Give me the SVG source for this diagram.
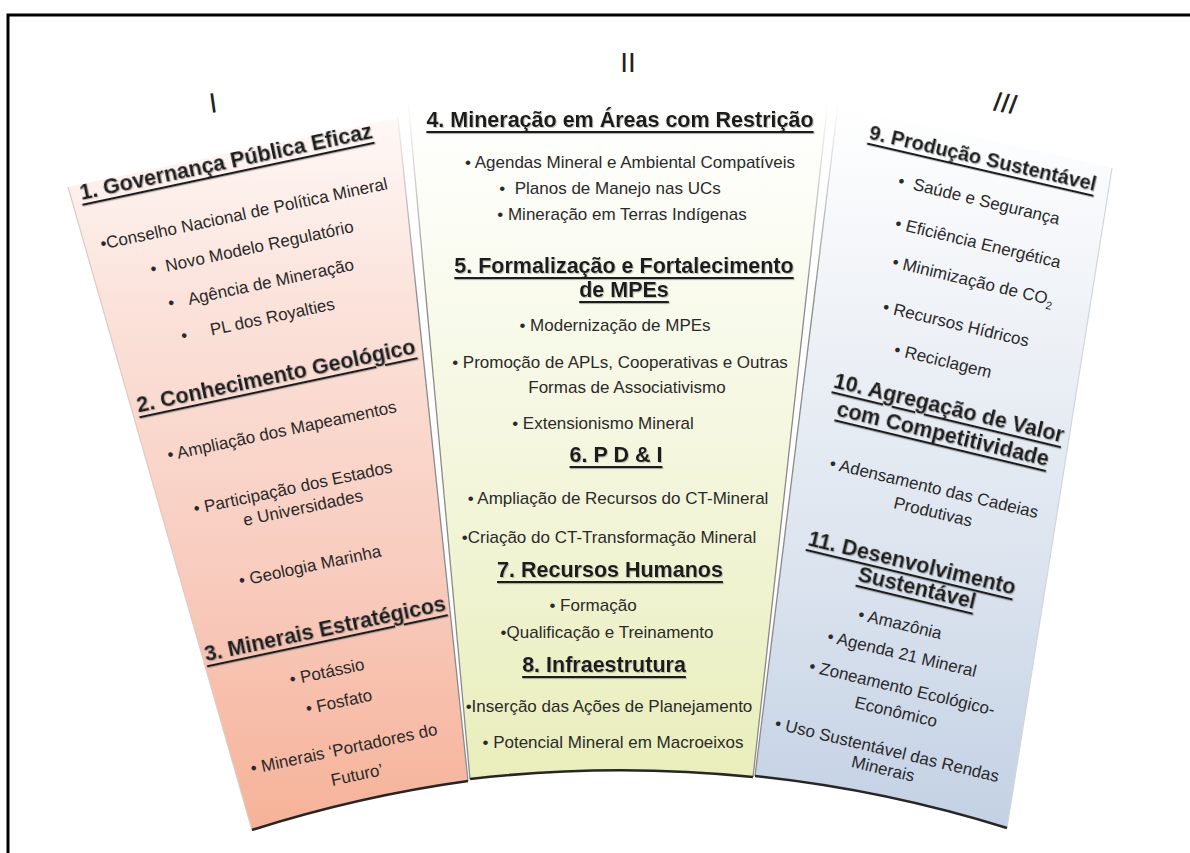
<svg xmlns="http://www.w3.org/2000/svg" width="1190" height="853" viewBox="0 0 1190 853">
<defs>
<linearGradient id="gL" x1="0" y1="0" x2="0" y2="1">
<stop offset="0" stop-color="#fef8f6"/>
<stop offset="0.25" stop-color="#fbe3db"/>
<stop offset="0.65" stop-color="#f8cbbd"/>
<stop offset="1" stop-color="#f6b298"/>
</linearGradient>
<linearGradient id="gM" x1="0" y1="0" x2="0" y2="1">
<stop offset="0" stop-color="#ffffff"/>
<stop offset="0.2" stop-color="#fbfcf3"/>
<stop offset="0.6" stop-color="#f2f5d8"/>
<stop offset="1" stop-color="#e9eebb"/>
</linearGradient>
<linearGradient id="gR" x1="0" y1="0" x2="0" y2="1">
<stop offset="0" stop-color="#ffffff"/>
<stop offset="0.25" stop-color="#f1f4f8"/>
<stop offset="0.65" stop-color="#dbe3ee"/>
<stop offset="1" stop-color="#c3d1e4"/>
</linearGradient>
<linearGradient id="gE" gradientUnits="userSpaceOnUse" x1="0" y1="100" x2="0" y2="300">
<stop offset="0" stop-color="#8a8a8a" stop-opacity="0"/>
<stop offset="1" stop-color="#8a8a8a" stop-opacity="1"/>
</linearGradient>
<filter id="sh" x="-5%" y="-20%" width="110%" height="150%">
<feDropShadow dx="1" dy="1" stdDeviation="0.5" flood-color="#888" flood-opacity="0.5"/>
</filter>
</defs>
<style>
.h{font-family:"Liberation Sans",Arial,sans-serif;font-weight:bold;font-size:21.5px;text-decoration:underline;fill:#1c1c1c;text-anchor:middle;dominant-baseline:central;filter:url(#sh)}
.b{font-family:"Liberation Sans",Arial,sans-serif;font-size:17px;fill:#2a2a2a;text-anchor:middle;dominant-baseline:central}
.rn{font-family:"Liberation Sans",Arial,sans-serif;font-size:28px;fill:#222;text-anchor:middle;dominant-baseline:central}
.edge{fill:none;stroke:url(#gE);stroke-width:1.3}
.bot{fill:none;stroke:#262626;stroke-width:2.6}
</style>
<rect width="1190" height="853" fill="#ffffff"/>
<path d="M8,853 V15 H1190" fill="none" stroke="#000" stroke-width="3"/>

<g id="panel-I">
<path d="M68,187 L398,118 L468,781 A1300,1300 0 0,0 252,830 Z" fill="url(#gL)"/>
<path class="edge" d="M398,118 L468,781"/>
<path d="M68,187 L252,830" fill="none" stroke="#dccbc5" stroke-width="1.2"/>
<path class="bot" d="M468,781 A1300,1300 0 0,0 252,830"/>
<text class="rn" x="213" y="103" transform="rotate(-8 213 103)">I</text>
<g id="sec1">
<text class="h" x="226" y="162" transform="rotate(-12 226 162)">1. Governança Pública Eficaz</text>
<text class="b" x="244" y="214" transform="rotate(-12 244 214)">•Conselho Nacional de Política Mineral</text>
<text class="b" x="252" y="248" transform="rotate(-12 252 248)">•&#160;&#160;Novo Modelo Regulatório</text>
<text class="b" x="261" y="284" transform="rotate(-12 261 284)">•&#160;&#160;&#160;Agência de Mineração</text>
<text class="b" x="258" y="320" transform="rotate(-12 258 320)">•&#160;&#160;&#160;&#160;&#160;PL dos Royalties</text>
</g>
<g id="sec2">
<text class="h" x="276" y="376" transform="rotate(-12 276 376)">2. Conhecimento Geológico</text>
<text class="b" x="282" y="431" transform="rotate(-12 282 431)">• Ampliação dos Mapeamentos</text>
<text class="b" x="293" y="488" transform="rotate(-12 293 488)">• Participação dos Estados</text>
<text class="b" x="303" y="508" transform="rotate(-12 303 508)">e Universidades</text>
<text class="b" x="310" y="566" transform="rotate(-12 310 566)">• Geologia Marinha</text>
</g>
<g id="sec3">
<text class="h" x="325" y="629" transform="rotate(-12 325 629)">3. Minerais Estratégicos</text>
<text class="b" x="327" y="672" transform="rotate(-12 327 672)">• Potássio</text>
<text class="b" x="339" y="702" transform="rotate(-12 339 702)">• Fosfato</text>
<text class="b" x="344" y="749" transform="rotate(-12 344 749)">• Minerais ‘Portadores do</text>
<text class="b" x="357" y="775" transform="rotate(-12 357 775)">Futuro’</text>
</g>
</g>

<g id="panel-II">
<path d="M408,100 L828,100 L753,777 A1300,1300 0 0,0 470,779 Z" fill="url(#gM)"/>
<path class="edge" d="M408,100 L470,779 M828,100 L753,777"/>
<path class="bot" d="M753,777 A1300,1300 0 0,0 470,779"/>
<text class="rn" x="628" y="62">II</text>
<g id="sec4">
<text class="h" x="620" y="120">4. Mineração em Áreas com Restrição</text>
<text class="b" x="630" y="162">• Agendas Mineral e Ambiental Compatíveis</text>
<text class="b" x="610" y="188">•&#160;&#160;Planos de Manejo nas UCs</text>
<text class="b" x="622" y="214">• Mineração em Terras Indígenas</text>
</g>
<g id="sec5">
<text class="h" x="624" y="266">5. Formalização e Fortalecimento</text>
<text class="h" x="624" y="290">de MPEs</text>
<text class="b" x="615" y="325">• Modernização de MPEs</text>
<text class="b" x="620" y="362">• Promoção de APLs, Cooperativas e Outras</text>
<text class="b" x="627" y="387">Formas de Associativismo</text>
<text class="b" x="603" y="423">• Extensionismo Mineral</text>
</g>
<g id="sec6">
<text class="h" x="616" y="455">6. P D &amp; I</text>
<text class="b" x="618" y="498">• Ampliação de Recursos do CT-Mineral</text>
<text class="b" x="609" y="537">•Criação do CT-Transformação Mineral</text>
</g>
<g id="sec7">
<text class="h" x="610" y="570">7. Recursos Humanos</text>
<text class="b" x="593" y="605">• Formação</text>
<text class="b" x="607" y="632">•Qualificação e Treinamento</text>
</g>
<g id="sec8">
<text class="h" x="604" y="665">8. Infraestrutura</text>
<text class="b" x="609" y="706">•Inserção das Ações de Planejamento</text>
<text class="b" x="613" y="742">• Potencial Mineral em Macroeixos</text>
</g>
</g>

<g id="panel-III">
<path d="M838,105 L1112,168 L1007,828 A1300,1300 0 0,0 755,776 Z" fill="url(#gR)"/>
<path class="edge" d="M838,105 L755,776"/>
<path d="M1112,168 L1007,828" fill="none" stroke="#d0d6de" stroke-width="1.2"/>
<path class="bot" d="M1007,828 A1300,1300 0 0,0 755,776"/>
<text class="rn" x="1005" y="103" font-style="italic" transform="rotate(10 1005 103)">III</text>
<g id="sec9">
<text class="h" x="983" y="158" font-size="20" style="font-size:20px" transform="rotate(13 983 158)">9. Produção Sustentável</text>
<text class="b" x="979" y="200" transform="rotate(13.5 979 200)">•&#160;&#160;Saúde e Segurança</text>
<text class="b" x="978" y="243" transform="rotate(13.5 978 243)">• Eficiência Energética</text>
<text class="b" x="973" y="281" transform="rotate(13.5 973 281)">• Minimização de CO<tspan font-size="11" baseline-shift="sub">2</tspan></text>
<text class="b" x="956" y="324" transform="rotate(13.5 956 324)">• Recursos Hídricos</text>
<text class="b" x="943" y="361" transform="rotate(13.5 943 361)">• Reciclagem</text>
</g>
<g id="sec10">
<text class="h" x="949" y="408" transform="rotate(13.5 949 408)">10. Agregação de Valor</text>
<text class="h" x="943" y="434" transform="rotate(13.5 943 434)">com Competitividade</text>
<text class="b" x="934" y="488" transform="rotate(13.5 934 488)">• Adensamento das Cadeias</text>
<text class="b" x="933" y="512" transform="rotate(13.5 933 512)">Produtivas</text>
</g>
<g id="sec11">
<text class="h" x="912" y="563" transform="rotate(13.5 912 563)">11. Desenvolvimento</text>
<text class="h" x="917" y="588" transform="rotate(13.5 917 588)">Sustentável</text>
<text class="b" x="900" y="624" transform="rotate(13.5 900 624)">• Amazônia</text>
<text class="b" x="902" y="654" transform="rotate(13.5 902 654)">• Agenda 21 Mineral</text>
<text class="b" x="902" y="688" transform="rotate(13.5 902 688)">• Zoneamento Ecológico-</text>
<text class="b" x="896" y="712" transform="rotate(13.5 896 712)">Econômico</text>
<text class="b" x="887" y="750" transform="rotate(13.5 887 750)">• Uso Sustentável das Rendas</text>
<text class="b" x="883" y="769" transform="rotate(13.5 883 769)">Minerais</text>
</g>
</g>
<g id="connectors"/>
</svg>
